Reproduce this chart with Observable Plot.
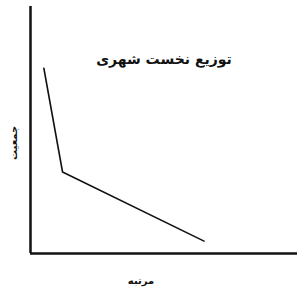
<!DOCTYPE html>
<html><head><meta charset="utf-8">
<script src="https://cdn.jsdelivr.net/npm/d3@7"></script>
<script src="https://cdn.jsdelivr.net/npm/@observablehq/plot@0.6"></script>
<style>body{margin:0;background:#fff}</style>
</head><body><div id="chart"></div>
<script>
const rank = [0.5, 1.2, 6.5];
const population = [7.5, 3.3, 0.5];
const title = "توزیع نخست شهری";
const xLabel = "مرتبه";
const yLabel = "جمعیت";

const data = rank.map((r, i) => ({rank: r, population: population[i]}));

const chart = Plot.plot({
  width: 297, height: 296,
  marginLeft: 30, marginRight: 0, marginTop: 6, marginBottom: 43,
  style: {fontFamily: "DejaVu Sans", background: "#fff"},
  x: {domain: [0, 10], axis: null},
  y: {domain: [0, 10], axis: null},
  marks: [
    Plot.ruleX([0], {stroke: "#111", strokeWidth: 2.5}),
    Plot.ruleY([0], {stroke: "#111", strokeWidth: 2.5}),
    Plot.line(data, {x: "rank", y: "population", stroke: "#111", strokeWidth: 1.6}),
    Plot.text([title], {frameAnchor: "top", dy: 48, fontSize: 14, fontWeight: "bold", fill: "#111"}),
    Plot.text([yLabel], {frameAnchor: "left", dx: -17, dy: 30, rotate: -90, fontSize: 10, fontWeight: "bold", fill: "#111"}),
    Plot.text([xLabel], {frameAnchor: "bottom", dx: -23, dy: 30, fontSize: 10, fontWeight: "bold", fill: "#111"})
  ]
});
document.getElementById("chart").appendChild(chart);
</script>
</body></html>
